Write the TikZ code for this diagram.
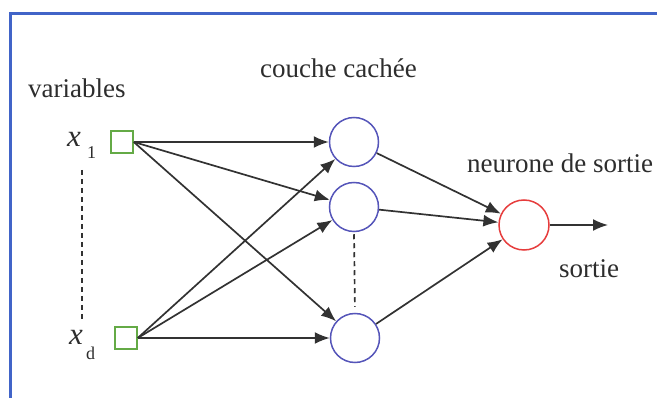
\documentclass[tikz,border=0pt]{standalone}
\usepackage{fontspec}
\setmainfont{Liberation Serif}
\usetikzlibrary{arrows.meta}
\definecolor{framecol}{RGB}{65,100,200}
\definecolor{sqcol}{RGB}{100,170,70}
\definecolor{hidcol}{RGB}{85,85,185}
\definecolor{outcol}{RGB}{230,60,60}
\definecolor{txtcol}{RGB}{45,45,45}
\definecolor{linecol}{RGB}{50,50,50}
\tikzset{
  sqbox/.style={draw=sqcol, line width=1.5pt, minimum size=22pt, inner sep=0pt},
  hidneuron/.style={circle, draw=hidcol, line width=1.5pt, minimum size=49pt, inner sep=0pt},
  outneuron/.style={circle, draw=outcol, line width=1.5pt, minimum size=50pt, inner sep=0pt},
  lbl/.style={inner sep=0pt, anchor=base west, text=txtcol, font=\fontsize{27}{32}\selectfont},
  varx/.style={inner sep=0pt, anchor=base west, text=txtcol, font=\fontsize{31}{36}\selectfont\itshape},
  subs/.style={inner sep=0pt, anchor=base west, text=txtcol, font=\fontsize{18}{22}\selectfont},
  conn/.style={draw=linecol, line width=1.7pt, -{Latex[length=15pt,width=12pt]}},
  dots/.style={draw=linecol, line width=1.7pt, dash pattern=on 5pt off 4pt}
}
\begin{document}
\begin{tikzpicture}[x=1pt,y=-1pt]
\useasboundingbox (0,0) rectangle (657,398);
\clip (0,0) rectangle (657,398);
% frame
\draw[framecol, line width=3pt] (10,420) -- (10,14) -- (680,14);
% labels
\node[lbl] (tvar) at (28,98) {variables};
\node[lbl] (tcc) at (260,78) {couche cachée};
\node[lbl] (tns) at (467,173) {neurone de sortie};
\node[lbl] (tso) at (559,278) {sortie};
\node[varx] (lx1) at (67,147) {x};
\node[subs] (lx1s) at (87,159) {1};
\node[varx] (lxd) at (69,345) {x};
\node[subs] (lxds) at (86,360) {d};
% nodes
\node[sqbox] (x1) at (122,142) {};
\node[sqbox] (xd) at (126,338) {};
\node[hidneuron] (h1) at (354,142) {};
\node[hidneuron] (h2) at (354,207) {};
\node[hidneuron] (h3) at (355,338) {};
\node[outneuron] (o) at (524,225) {};
\coordinate (oend) at (608,225);
\coordinate (da) at (82,170);
\coordinate (db) at (82,322);
% dotted lines
\draw[dots] (da) -- (db);
\draw[dots, shorten <=2pt, shorten >=6pt] (h2.south) -- (h3.north);
% connectors
\draw[conn] (x1.east) -- (h1);
\draw[conn] (x1.east) -- (h2);
\draw[conn] (x1.east) -- (h3);
\draw[conn] (xd.east) -- (h1);
\draw[conn] (xd.east) -- (h2);
\draw[conn] (xd.east) -- (h3);
\draw[conn] (h1) -- (o);
\draw[conn] (h2) -- (o);
\draw[conn] (h3) -- (o);
\draw[conn] (o.east) -- (oend);
\end{tikzpicture}
\end{document}
